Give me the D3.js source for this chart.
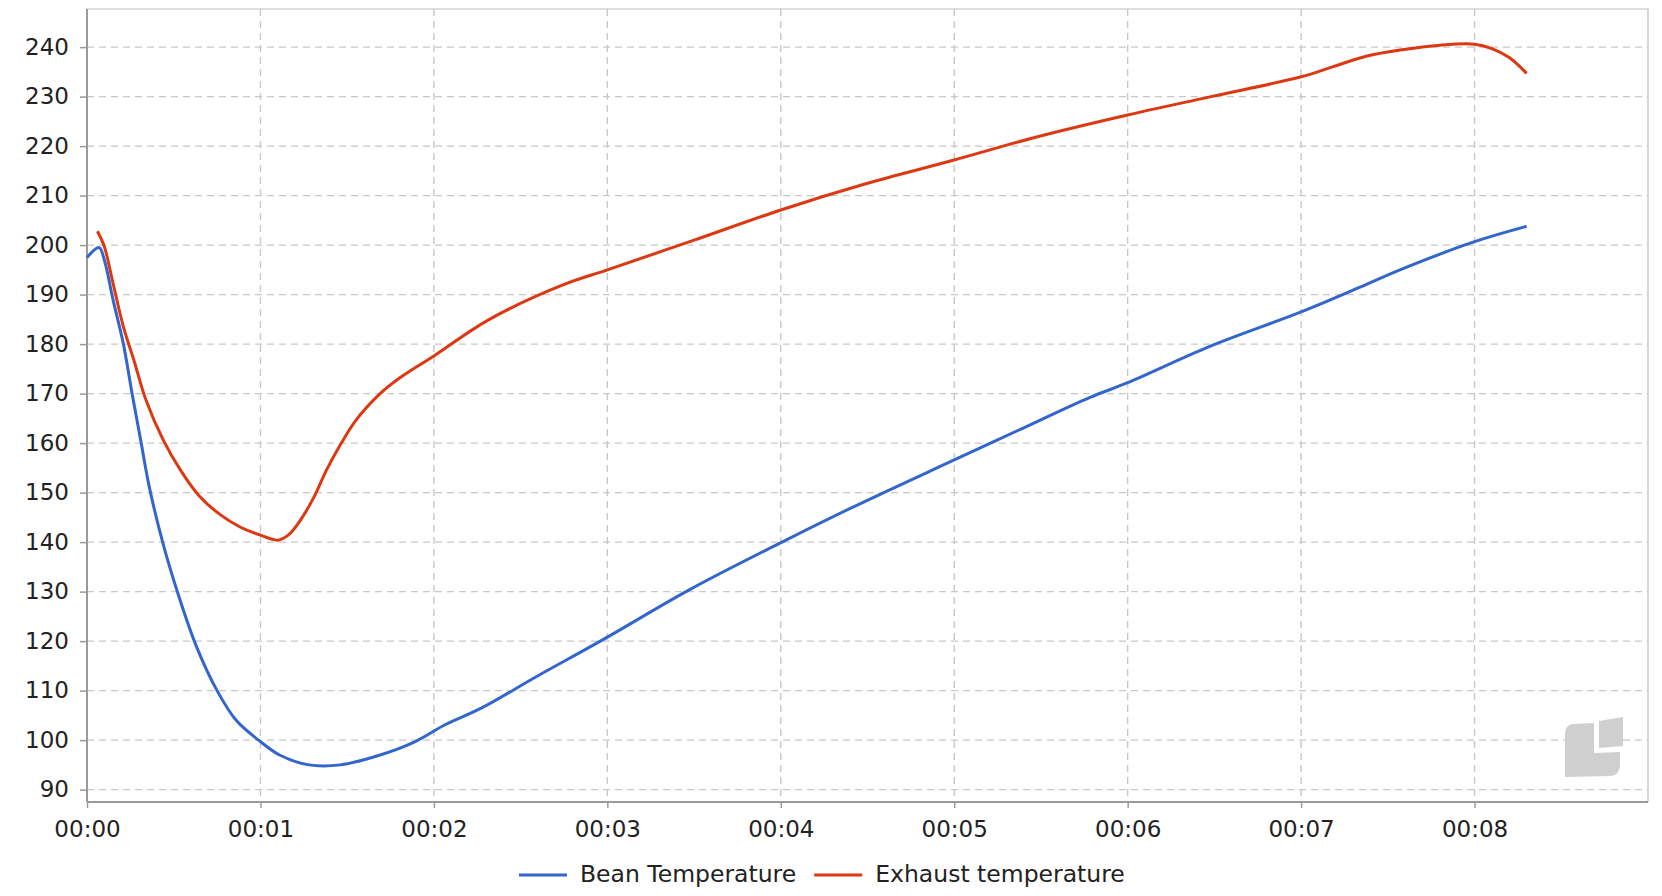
<!DOCTYPE html>
<html>
<head>
<meta charset="utf-8">
<script src="https://cdnjs.cloudflare.com/ajax/libs/d3/7.8.5/d3.min.js"></script>
<style>
    body { margin: 0; background: #fff; }
    text { font-family: "DejaVu Sans", sans-serif; fill: #222; }
</style>
</head>
<body>
<svg id="chart" width="1662" height="896"></svg>
<script>
// roast curves, time in minutes
var beanTime = [0, 0.07, 0.1, 0.15, 0.21, 0.26, 0.31, 0.36, 0.44, 0.53, 0.63, 0.75, 0.86, 1.0, 1.11, 1.28, 1.46, 1.69, 1.88, 2.07, 2.27, 2.6, 2.97, 3.48, 3.99, 4.4, 5.0, 5.37, 5.78, 6.0, 6.47, 7.0, 7.34, 7.57, 8.0, 8.3];
var beanTemp = [197.5, 199.5, 197, 189, 180, 170, 160.5, 151, 139.5, 129, 119, 110, 104, 99.7, 97, 95, 95, 97, 99.5, 103.2, 106.4, 113, 120.2, 130.5, 139.7, 146.8, 156.6, 162.6, 169.2, 172.2, 179.5, 186.5, 191.5, 195, 200.7, 203.8];

var exhaustTime = [0.06, 0.1, 0.15, 0.21, 0.27, 0.34, 0.44, 0.54, 0.65, 0.77, 0.88, 1.0, 1.1, 1.16, 1.23, 1.31, 1.38, 1.46, 1.55, 1.69, 1.8, 2.0, 2.31, 2.74, 3.0, 3.5, 4.0, 4.49, 5.0, 5.48, 6.0, 6.48, 7.0, 7.18, 7.38, 7.57, 7.8, 8.0, 8.1, 8.2, 8.3];
var exhaustTemp = [202.8, 199.7, 192.3, 183.5, 176.8, 168.7, 160.6, 154.5, 149.2, 145.5, 143.1, 141.4, 140.4, 141.4, 144.4, 149.2, 154.5, 159.6, 164.6, 170, 173.1, 177.6, 184.8, 191.9, 195, 201, 207.1, 212.4, 217.2, 221.9, 226.3, 230, 234, 236, 238.2, 239.4, 240.4, 240.6, 239.7, 237.9, 234.7];

var xTicks = [0, 1, 2, 3, 4, 5, 6, 7, 8];
var xTickLabels = ["00:00", "00:01", "00:02", "00:03", "00:04", "00:05", "00:06", "00:07", "00:08"];
var yTicks = [90, 100, 110, 120, 130, 140, 150, 160, 170, 180, 190, 200, 210, 220, 230, 240];

var seriesNames = ["Bean Temperature", "Exhaust temperature"];
var seriesColors = ["#3366cc", "#dc3912"];

var plot = { left: 87, top: 9, right: 1648, bottom: 802 };

var svg = d3.select('#chart');

var x = d3.scaleLinear()
    .domain([0, 9])
    .range([plot.left, plot.right]);

var y = d3.scaleLinear()
    .domain([87.5, 247.7])
    .range([plot.bottom, plot.top]);

// grid
var grid = svg.append('g').attr('class', 'grid');
grid.selectAll('line.h')
    .data(yTicks)
    .enter()
    .append('line')
        .attr('class', 'h')
        .attr('x1', plot.left)
        .attr('x2', plot.right)
        .attr('y1', function(d){ return y(d); })
        .attr('y2', function(d){ return y(d); })
        .attr('stroke', '#c8c8c8')
        .attr('stroke-width', 1.4)
        .attr('stroke-dasharray', '7,5');
grid.selectAll('line.v')
    .data(xTicks.slice(1))
    .enter()
    .append('line')
        .attr('class', 'v')
        .attr('y1', plot.top)
        .attr('y2', plot.bottom)
        .attr('x1', function(d){ return x(d); })
        .attr('x2', function(d){ return x(d); })
        .attr('stroke', '#c8c8c8')
        .attr('stroke-width', 1.4)
        .attr('stroke-dasharray', '7,5');

// frame (top/right lighter)
svg.append('path')
    .attr('d', 'M' + plot.left + ',' + plot.top + 'H' + plot.right + 'V' + plot.bottom)
    .attr('fill', 'none')
    .attr('stroke', '#bdbdbd')
    .attr('stroke-width', 1.2);

// watermark logo
var logo = svg.append('g').attr('fill', '#cfcfcf');
logo.append('path')
    .attr('d', 'M1565,733 Q1566,724 1574,724 L1594,723 L1594,753 L1620,752 L1620,766 Q1619,776 1609,776 L1565,777 Z');
logo.append('path')
    .attr('d', 'M1599,721 L1623,717 L1623,746 L1599,748 Z');

// axes
var xAxis = d3.axisBottom(x)
    .tickValues(xTicks)
    .tickFormat(function(d, i){ return xTickLabels[i]; })
    .tickSizeOuter(0)
    .tickSize(6)
    .tickPadding(13);
var gx = svg.append('g')
    .attr('transform', 'translate(0,' + plot.bottom + ')')
    .call(xAxis);

var yAxis = d3.axisLeft(y)
    .tickValues(yTicks)
    .tickSizeOuter(0)
    .tickSize(7)
    .tickPadding(11);
var gy = svg.append('g')
    .attr('transform', 'translate(' + plot.left + ',0)')
    .call(yAxis);

[gx, gy].forEach(function(g){
    g.select('.domain').attr('stroke', '#9a9a9a').attr('stroke-width', 2);
    g.selectAll('.tick line').attr('stroke', '#9a9a9a').attr('stroke-width', 1.5);
    g.selectAll('.tick text')
        .style('font-family', '"DejaVu Sans", sans-serif')
        .style('font-size', '23px')
        .attr('fill', '#222');
});
// stretch domain lines to full plot
gy.select('.domain').attr('d', 'M0,' + plot.top + 'V' + plot.bottom);
gx.select('.domain').attr('d', 'M' + plot.left + ',0H' + plot.right);

// lines
var line = d3.line()
    .x(function(d){ return x(d.t); })
    .y(function(d){ return y(d.v); })
    .curve(d3.curveCatmullRom.alpha(0.5));

var series = [
    beanTime.map(function(t, i){ return { t: t, v: beanTemp[i] }; }),
    exhaustTime.map(function(t, i){ return { t: t, v: exhaustTemp[i] }; })
];

svg.append('g')
    .selectAll('path')
    .data(series)
    .enter()
    .append('path')
        .attr('d', line)
        .attr('fill', 'none')
        .attr('stroke', function(d, i){ return seriesColors[i]; })
        .attr('stroke-width', 3)
        .attr('stroke-linejoin', 'round');

// legend
var legend = svg.append('g');
var lx = 519;
seriesNames.forEach(function(name, i){
    legend.append('line')
        .attr('x1', lx).attr('x2', lx + 48)
        .attr('y1', 875).attr('y2', 875)
        .attr('stroke', seriesColors[i])
        .attr('stroke-width', 3);
    var t = legend.append('text')
        .attr('x', lx + 61)
        .attr('y', 882)
        .style('font-size', '23.5px')
        .text(name);
    lx = lx + 61 + t.node().getComputedTextLength() + 18;
});
</script>
</body>
</html>
